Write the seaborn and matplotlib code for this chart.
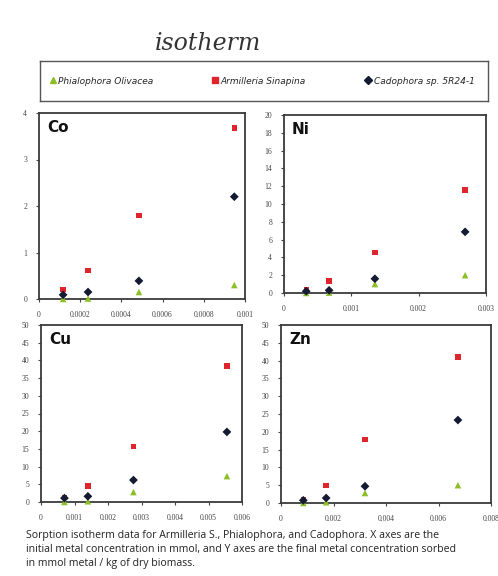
import matplotlib
matplotlib.use("Agg")
import matplotlib.pyplot as plt
import matplotlib.lines as mlines
import seaborn as sns
import pandas as pd
import numpy as np

species = ["Phialophora Olivacea", "Armilleria Sinapina", "Cadophora sp. 5R24-1"]
colors = ["#8cbf26", "#e0242c", "#151a33"]
markers = ["^", "s", "D"]

co_x = [0.000117, 0.000238, 0.000485, 0.000948]
co_phi = [0.0, 0.01, 0.15, 0.30]
co_arm = [0.20, 0.61, 1.79, 3.68]
co_cad = [0.09, 0.15, 0.39, 2.20]

ni_x = [0.00033, 0.00067, 0.00135, 0.00269]
ni_phi = [0.0, 0.04, 1.0, 2.0]
ni_arm = [0.41, 1.35, 4.54, 11.56]
ni_cad = [0.2, 0.3, 1.6, 6.87]

cu_x = [0.0007, 0.0014, 0.00276, 0.00555]
cu_phi = [0.0, 0.2, 2.8, 7.3]
cu_arm = [1.3, 4.5, 15.75, 38.4]
cu_cad = [1.1, 1.6, 6.2, 19.8]

zn_x = [0.00085, 0.00172, 0.0032, 0.00674]
zn_phi = [0.0, 0.2, 2.8, 5.0]
zn_arm = [0.95, 4.9, 17.8, 41.0]
zn_cad = [0.75, 1.4, 4.7, 23.3]

panels = [
    ("Co", co_x, co_phi, co_arm, co_cad, (0, 0.001), [0, 0.0002, 0.0004, 0.0006, 0.0008, 0.001],
     ["0", "0.0002", "0.0004", "0.0006", "0.0008", "0.001"], (0, 4), [0, 1, 2, 3, 4]),
    ("Ni", ni_x, ni_phi, ni_arm, ni_cad, (0, 0.003), [0, 0.001, 0.002, 0.003],
     ["0", "0.001", "0.002", "0.003"], (0, 20), list(range(0, 21, 2))),
    ("Cu", cu_x, cu_phi, cu_arm, cu_cad, (0, 0.006), [0, 0.001, 0.002, 0.003, 0.004, 0.005, 0.006],
     ["0", "0.001", "0.002", "0.003", "0.004", "0.005", "0.006"], (0, 50), list(range(0, 51, 5))),
    ("Zn", zn_x, zn_phi, zn_arm, zn_cad, (0, 0.008), [0, 0.002, 0.004, 0.006, 0.008],
     ["0", "0.002", "0.004", "0.006", "0.008"], (0, 50), list(range(0, 51, 5))),
]

W, H = 498, 576
# axes rects in pixels: left, top, right, bottom
rects = [(39, 113, 245, 299), (284, 115, 486, 293), (41, 325, 242, 502), (281, 325, 491, 503)]

sns.set_theme(style="white")
plt.rcParams['font.family'] = ['Liberation Serif', 'DejaVu Serif']

fig = plt.figure(figsize=(W / 100, H / 100), dpi=100)
fig.patch.set_facecolor("white")

def fr(l, t, r, b):
    return [l / W, 1 - b / H, (r - l) / W, (b - t) / H]

for (name, xs, phi, arm, cad, xlim, xt, xtl, ylim, yt), rc in zip(panels, rects):
    ax = fig.add_axes(fr(*rc))
    df = pd.DataFrame({
        "x": xs * 3,
        "y": phi + arm + cad,
        "sp": [species[0]] * 4 + [species[1]] * 4 + [species[2]] * 4,
    })
    for i, sp in enumerate(species):
        sub = df[df.sp == sp]
        sns.scatterplot(data=sub, x="x", y="y", color=colors[i], marker=markers[i],
                        s=[22, 15, 20][i], edgecolor="none", linewidth=0, ax=ax, legend=False,
                        zorder=3 + i, clip_on=False)
    ax.set_xlim(*xlim)
    ax.set_ylim(*ylim)
    ax.set_xticks(xt)
    ax.set_xticklabels(xtl)
    ax.set_yticks(yt)
    ax.set_xlabel("")
    ax.set_ylabel("")
    ax.tick_params(axis="both", labelsize=5.5, length=2.5, width=0.8, colors="#444444",
                   direction="out", bottom=True, left=True, pad=6)
    for sp_ in ax.spines.values():
        sp_.set_color("#3a3a3a")
        sp_.set_linewidth(1.3)
    ax.text(0.04, 0.96, name, transform=ax.transAxes, ha="left", va="top",
            fontsize=11, fontweight="bold", family=["DejaVu Sans"], color="#111111")

# handwritten title
fig.text(155 / W, 1 - 44 / H, "isotherm", fontsize=17, family=["DejaVu Serif"], style="italic",
         color="#333333", ha="left", va="center")

# legend box
lax = fig.add_axes(fr(40, 61, 488, 101))
lax.set_xticks([])
lax.set_yticks([])
lax.patch.set_alpha(0)
for sp_ in lax.spines.values():
    sp_.set_color("#555555")
    sp_.set_linewidth(1.0)
handles = [mlines.Line2D([], [], linestyle="none", marker=markers[i], color=colors[i],
                         markersize=[5, 5, 4][i]) for i in range(3)]
leg = lax.legend(handles, species, loc="center", bbox_to_anchor=(0.0, 0.0, 0.99, 1.0),
                 ncol=3, mode="expand", frameon=False, handletextpad=0.2, borderaxespad=0.6,
                 prop={"family": "DejaVu Sans", "style": "italic", "size": 6.5}, handlelength=0.8)

caption = ("Sorption isotherm data for Armilleria S., Phialophora, and Cadophora. X axes are the\n"
           "initial metal concentration in mmol, and Y axes are the final metal concentration sorbed\n"
           "in mmol metal / kg of dry biomass.")
fig.text(26 / W, 1 - 530 / H, caption, fontsize=7.6, family=["Open Sans", "DejaVu Sans"],
         ha="left", va="top", linespacing=1.35, color="#222222")

fig.savefig("out.png", dpi=100, facecolor="white")
